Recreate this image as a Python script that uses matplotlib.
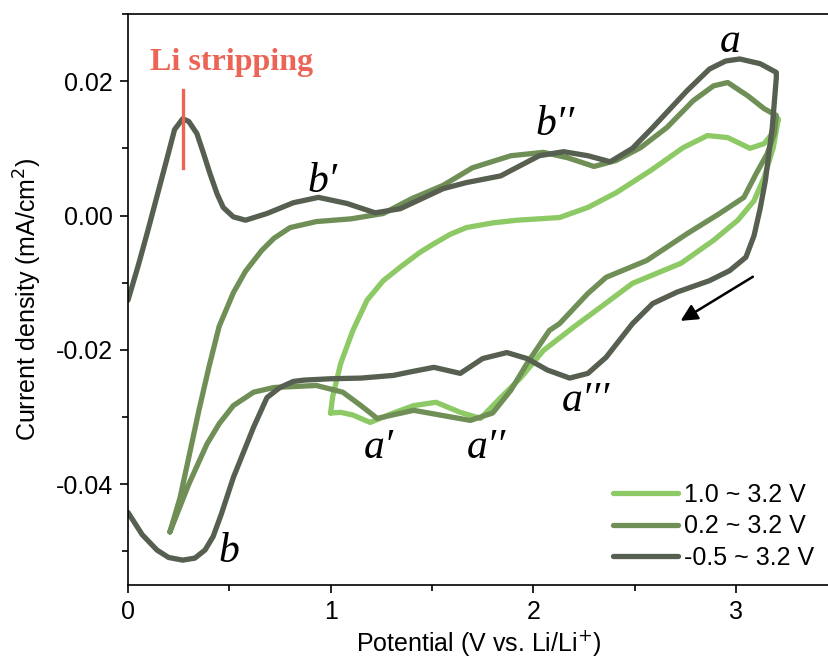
import matplotlib
matplotlib.use("Agg")
import matplotlib.pyplot as plt
from matplotlib.ticker import MultipleLocator

plt.rcParams['font.family'] = ['Liberation Sans', 'DejaVu Sans']

# 1.0 ~ 3.2 V (scan starts at 1.0 V, up to 3.2 V, back to 1.0 V)
x_light = [1.0, 1.01, 1.05, 1.11, 1.18, 1.26, 1.343, 1.44, 1.51, 1.59, 1.67, 1.8, 1.92, 2.13,
           2.27, 2.41, 2.58, 2.74, 2.86, 2.96, 3.07, 3.14, 3.19, 3.21,
           3.185, 3.14, 3.09, 3.01, 2.89, 2.73, 2.49, 2.33, 2.2, 2.05, 1.94, 1.84, 1.74,
           1.64, 1.52, 1.41, 1.31, 1.195, 1.11, 1.05, 1.0]
y_light = [-0.0294, -0.0270, -0.0220, -0.0171, -0.0126, -0.0097, -0.0077, -0.0055, -0.0042,
           -0.0028, -0.0018, -0.0011, -0.0007, -0.0003, 0.0012, 0.0034, 0.0067, 0.0101,
           0.0119, 0.0116, 0.0100, 0.0107, 0.0126, 0.0144,
           0.0101, 0.0057, 0.0022, -0.0007, -0.0037, -0.0071, -0.0101, -0.0137, -0.0166,
           -0.0201, -0.0241, -0.0271, -0.0302, -0.0293, -0.0278, -0.0283, -0.0294, -0.0308,
           -0.0297, -0.0293, -0.0294]

# 0.2 ~ 3.2 V
x_mid = [0.207, 0.257, 0.30, 0.35, 0.40, 0.45, 0.52, 0.58, 0.66, 0.72, 0.80, 0.93, 1.1, 1.26,
         1.4, 1.556, 1.70, 1.89, 2.05, 2.17, 2.30, 2.41, 2.53, 2.66, 2.79, 2.89, 2.96, 3.06,
         3.14, 3.2,
         3.19, 3.155, 3.1, 3.04, 2.92, 2.76, 2.56, 2.36, 2.27, 2.13, 2.08, 1.97, 1.89, 1.80,
         1.69, 1.54, 1.41, 1.23, 1.15, 1.06, 0.93, 0.72, 0.62, 0.52, 0.45, 0.39, 0.30, 0.207]
y_mid = [-0.0471, -0.0420, -0.0360, -0.0290, -0.0225, -0.0165, -0.0115, -0.0083, -0.0052,
         -0.0034, -0.0018, -0.0009, -0.0005, 0.0003, 0.0025, 0.0045, 0.0071, 0.0089, 0.0094,
         0.0086, 0.0073, 0.0082, 0.0101, 0.0131, 0.0171, 0.0193, 0.0198, 0.0178, 0.0159,
         0.0149,
         0.0122, 0.0092, 0.0062, 0.0027, 0.0003, -0.0027, -0.0067, -0.0092, -0.0116, -0.0161,
         -0.0171, -0.0220, -0.0260, -0.0294, -0.0305, -0.0297, -0.0290, -0.0302, -0.0283,
         -0.0263, -0.0253, -0.0256, -0.0263, -0.0283, -0.0310, -0.0340, -0.0400, -0.0471]

# -0.5 ~ 3.2 V (only the part inside the axes, x >= 0)
x_dark = [0.0, 0.05, 0.094, 0.19, 0.23, 0.27, 0.30, 0.34, 0.37, 0.405, 0.44, 0.47, 0.52, 0.58,
          0.686, 0.816, 0.94, 1.08, 1.22, 1.343, 1.556, 1.67, 1.84, 1.89, 2.03, 2.15, 2.27,
          2.38, 2.49, 2.59, 2.76, 2.87, 2.95, 3.02, 3.12, 3.2,
          3.2, 3.18, 3.146, 3.12, 3.09, 3.05, 2.97, 2.87, 2.71, 2.59, 2.49, 2.36, 2.27, 2.18,
          2.07, 1.97, 1.87, 1.75, 1.64, 1.51, 1.39, 1.31, 1.15, 1.0, 0.87, 0.816, 0.75, 0.686,
          0.62, 0.52, 0.46, 0.42, 0.38, 0.33, 0.27, 0.2, 0.143, 0.07, 0.0]
y_dark = [-0.0126, -0.0075, -0.0027, 0.0082, 0.0128, 0.0144, 0.0140, 0.0122, 0.0095, 0.0062,
          0.0032, 0.0012, -0.0002, -0.0007, 0.0003, 0.0019, 0.0027, 0.0018, 0.0004, 0.0010,
          0.0040, 0.0049, 0.0059, 0.0067, 0.0089, 0.0095, 0.0089, 0.0080, 0.0100, 0.0131,
          0.0186, 0.0218, 0.0230, 0.0233, 0.0226, 0.0213,
          0.0205, 0.0131, 0.0052, 0.0010, -0.0030, -0.0062, -0.0082, -0.0097, -0.0114,
          -0.0131, -0.0161, -0.0211, -0.0235, -0.0242, -0.0230, -0.0213, -0.0204, -0.0213,
          -0.0235, -0.0226, -0.0233, -0.0238, -0.0242, -0.0243, -0.0245, -0.0247, -0.0256,
          -0.0271, -0.0315, -0.0390, -0.0445, -0.0478, -0.0498, -0.0510, -0.0513, -0.0509,
          -0.0498, -0.0475, -0.0442]

labels = ['1.0 ~ 3.2 V', '0.2 ~ 3.2 V', '-0.5 ~ 3.2 V']
colors = ['#8dc964', '#6f8f57', '#565f50']

peak_names = ['a', 'b\u2032\u2032', 'b\u2032', 'a\u2032', 'a\u2032\u2032', 'a\u2032\u2032\u2032', 'b']
peak_x = [2.97, 2.11, 0.96, 1.24, 1.77, 2.26, 0.50]
peak_y = [0.0258, 0.0135, 0.0050, -0.0345, -0.0345, -0.0275, -0.0500]

fig = plt.figure(figsize=(8.29, 6.59), dpi=100)
ax = fig.add_axes([0.1544, 0.1123, 0.8456, 0.8665])

for xs, ys, c, lab in zip([x_light, x_mid, x_dark], [y_light, y_mid, y_dark], colors, labels):
    ax.plot(xs, ys, color=c, lw=3.8, label=lab, solid_joinstyle='round', solid_capstyle='round')

# Li stripping marker
ax.plot([0.27, 0.27], [0.0071, 0.0187], color='#ec6456', lw=2.4)
ax.text(0.51, 0.0228, 'Li stripping', color='#ec6456', fontsize=23, fontweight='bold',
        family='Liberation Serif', ha='center', va='center')

for name, px, py in zip(peak_names, peak_x, peak_y):
    ax.text(px, py, name, fontsize=30, style='italic', family=['Liberation Serif', 'DejaVu Serif'],
            ha='center', va='center')

ax.annotate('', xy=(2.716, -0.0159), xytext=(3.096, -0.0089),
            arrowprops=dict(arrowstyle='-|>', color='black', lw=1.8, mutation_scale=25))

ax.set_xlim(0, 3.46)
ax.set_ylim(-0.055, 0.030)
ax.xaxis.set_major_locator(MultipleLocator(1))
ax.xaxis.set_minor_locator(MultipleLocator(0.5))
ax.yaxis.set_major_locator(MultipleLocator(0.02))
ax.yaxis.set_minor_locator(MultipleLocator(0.01))
ax.yaxis.set_major_formatter(plt.FuncFormatter(lambda v, p: f'{v:.2f}'))
ax.tick_params(which='major', length=6, width=1.2, labelsize=18, direction='out', pad=5)
ax.tick_params(which='minor', length=4, width=1.2, direction='out')
ax.spines['right'].set_visible(False)
for s in ['left', 'top', 'bottom']:
    ax.spines[s].set_linewidth(1.2)

ax.set_xlabel('Potential (V vs. Li/Li$^{+}$)', fontsize=18, labelpad=3)
ax.set_ylabel('Current density (mA/cm$^{2}$)', fontsize=18, labelpad=8)

leg = ax.legend(loc='lower right', frameon=False, fontsize=18, handlelength=2.6,
                handletextpad=0.25, labelspacing=0.3, borderaxespad=0.2)

fig.savefig('out.png', dpi=100)
